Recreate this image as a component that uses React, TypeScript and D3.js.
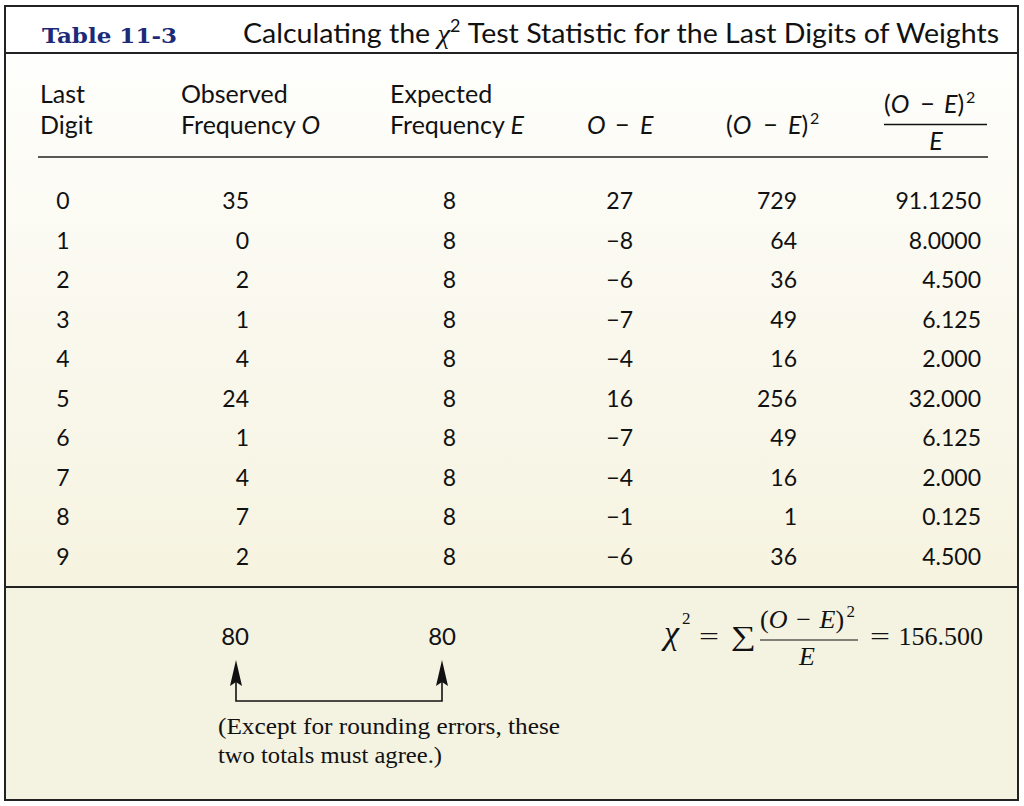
import React from "react";
import * as d3 from "d3";

// table data
const digits = [0, 1, 2, 3, 4, 5, 6, 7, 8, 9];
const observed = [35, 0, 2, 1, 4, 24, 1, 4, 7, 2];
const expected = [8, 8, 8, 8, 8, 8, 8, 8, 8, 8];
const differences = [27, -8, -6, -7, -4, 16, -7, -4, -1, -6];
const squares = [729, 64, 36, 49, 16, 256, 49, 16, 1, 36];
const contributions = ["91.1250", "8.0000", "4.500", "6.125", "2.000", "32.000", "6.125", "2.000", "0.125", "4.500"];
const totals = [80, 80];
const chiSquare = "156.500";
const columnKeys = ["digit", "observed", "expected", "diff", "square", "contrib"];

const W = 1024;
const H = 806;
const SANS = "Lato, 'Open Sans', sans-serif";
const SERIF = "'Liberation Serif', 'Times New Roman', serif";

// (O − E)² written as pieces, x0 = left edge, gap = extra room round the minus
function OminusE({ x0, y0, size, supSize, font, gap, supShift = 0 }: { x0: number; y0: number; size: number; supSize: number; font: string; gap: number; supShift?: number }) {
  const paren = size * 0.3;
  const o = size * 0.75;
  const minusW = size * 0.55;
  const xMinus = x0 + paren + o + gap;
  const xE = xMinus + minusW + gap;
  const e = size * 0.62;
  return (
    <g fontFamily={font} fontSize={size} fill="#111">
      <text x={x0} y={y0}>
        (<tspan fontStyle="italic">O</tspan>
      </text>
      <text x={xMinus} y={y0}>−</text>
      <text x={xE} y={y0}>
        <tspan fontStyle="italic">E</tspan>)
      </text>
      <text x={xE + e + paren - 1 + supShift} y={y0 - size * 0.42} fontSize={supSize}>2</text>
    </g>
  );
}

export default function App() {
  const fmt = d3.format("d");

  const y = d3.scalePoint<number>().domain(digits).range([209, 565]);
  const x = d3.scaleOrdinal<string, number>().domain(columnKeys).range([63, 249, 456, 633, 797, 981]);

  const cells: { key: string; vals: string[] }[] = [
    { key: "digit", vals: digits.map(fmt) },
    { key: "observed", vals: observed.map(fmt) },
    { key: "expected", vals: expected.map(fmt) },
    { key: "diff", vals: differences.map(fmt) },
    { key: "square", vals: squares.map(fmt) },
    { key: "contrib", vals: contributions },
  ];

  const leftX = x("observed");
  const rightX = x("expected");
  const totalY = 645;
  const arrowBase = 701;
  const arrowTip = 660;

  const arrowHead = (cx: number) =>
    `M${cx},${arrowTip} L${cx - 6},${arrowTip + 26} L${cx},${arrowTip + 22} L${cx + 6},${arrowTip + 26} Z`;

  return (
    <svg width={W} height={H} style={{ position: "absolute", left: 0, top: 0 }}>
      <defs>
        <linearGradient id="bodyGrad" x1="0" y1="0" x2="0" y2="1">
          <stop offset="0" stopColor="#fefefc" />
          <stop offset="1" stopColor="#f6f3e0" />
        </linearGradient>
      </defs>
      <rect x={0} y={0} width={W} height={H} fill="#ffffff" />
      <rect x={5} y={53} width={1013} height={534} fill="url(#bodyGrad)" />
      <rect x={5} y={587} width={1013} height={213} fill="#f4f2e1" />

      {/* title */}
      <text x={42} y={43} fontFamily="'DejaVu Serif', serif" fontWeight="bold" fontSize={21} fill="#1c2a78" textLength={135} lengthAdjust="spacingAndGlyphs">
        Table 11-3
      </text>
      <text x={243} y={43} fontFamily={SANS} fontSize={27} fill="#111" textLength={756} lengthAdjust="spacingAndGlyphs">
        Calculating the{" "}
        <tspan fontFamily={SERIF} fontStyle="italic">χ</tspan>
        <tspan dy={-11} fontSize={17}>2</tspan>
        <tspan dy={11}> Test Statistic for the Last Digits of Weights</tspan>
      </text>

      {/* column headers */}
      <g fontFamily={SANS} fontSize={25} fill="#111">
        <text x={40} y={103}>Last</text>
        <text x={40} y={134}>Digit</text>
        <text x={181} y={103}>Observed</text>
        <text x={181} y={134}>
          Frequency <tspan fontStyle="italic">O</tspan>
        </text>
        <text x={390} y={103}>Expected</text>
        <text x={390} y={134}>
          Frequency <tspan fontStyle="italic">E</tspan>
        </text>
        <text x={587} y={134} fontStyle="italic">O</text>
        <text x={615} y={134}>−</text>
        <text x={640} y={134} fontStyle="italic">E</text>
        <line x1={884} x2={987} y1={124.5} y2={124.5} stroke="#111" strokeWidth={1.5} />
        <text x={936} y={150} textAnchor="middle" fontStyle="italic">E</text>
      </g>
      <OminusE x0={726} y0={134} size={25} supSize={16} font={SANS} gap={11} />
      <OminusE x0={884} y0={113} size={25} supSize={16} font={SANS} gap={10} />
      <line x1={38} x2={988} y1={157} y2={157} stroke="#222" strokeWidth={1.6} />

      {/* rows */}
      <g fontFamily={SANS} fontSize={23} fill="#111">
        {cells.map((c) =>
          c.vals.map((v, i) => (
            <text
              key={c.key + i}
              x={x(c.key)}
              y={y(digits[i])}
              textAnchor={c.key === "digit" ? "middle" : "end"}
            >
              {v}
            </text>
          ))
        )}
      </g>

      {/* totals */}
      <g fontFamily={SANS} fontSize={24} fill="#111" textAnchor="end">
        <text x={leftX} y={totalY}>{fmt(totals[0])}</text>
        <text x={rightX} y={totalY}>{fmt(totals[1])}</text>
      </g>
      <path
        d={`M${leftX - 13},${arrowTip + 20} V${arrowBase} H${rightX - 14} V${arrowTip + 20}`}
        fill="none"
        stroke="#111"
        strokeWidth={1.6}
      />
      <path d={arrowHead(leftX - 13)} fill="#111" />
      <path d={arrowHead(rightX - 14)} fill="#111" />
      <g fontFamily={SERIF} fontSize={24} fill="#111">
        <text x={218} y={734} textLength={342} lengthAdjust="spacingAndGlyphs">(Except for rounding errors, these</text>
        <text x={218} y={763} textLength={224} lengthAdjust="spacingAndGlyphs">two totals must agree.)</text>
      </g>

      {/* formula */}
      <g fontFamily={SERIF} fill="#111">
        <text x={664} y={644} fontSize={34} fontStyle="italic">χ</text>
        <text x={682} y={624} fontSize={17}>2</text>
        <text x={699} y={645} fontSize={26} textLength={20} lengthAdjust="spacingAndGlyphs">=</text>
        <text x={731} y={645} fontSize={27} textLength={25} lengthAdjust="spacingAndGlyphs">∑</text>
        <line x1={760} x2={858} y1={640} y2={640} stroke="#111" strokeWidth={1.2} />
        <text x={807} y={665} fontSize={26} fontStyle="italic" textAnchor="middle">E</text>
        <text x={870} y={645} fontSize={26} textLength={20} lengthAdjust="spacingAndGlyphs">=</text>
        <text x={983} y={645} fontSize={26} textAnchor="end">{chiSquare}</text>
      </g>
      <OminusE x0={760} y0={628} size={26} supSize={17} font={SERIF} gap={9} supShift={4} />

      {/* borders */}
      <rect x={5} y={6} width={1013} height={794} fill="none" stroke="#222" strokeWidth={2} />
      <line x1={5} x2={1018} y1={53} y2={53} stroke="#222" strokeWidth={2} />
      <line x1={5} x2={1018} y1={587} y2={587} stroke="#222" strokeWidth={2} />
    </svg>
  );
}
